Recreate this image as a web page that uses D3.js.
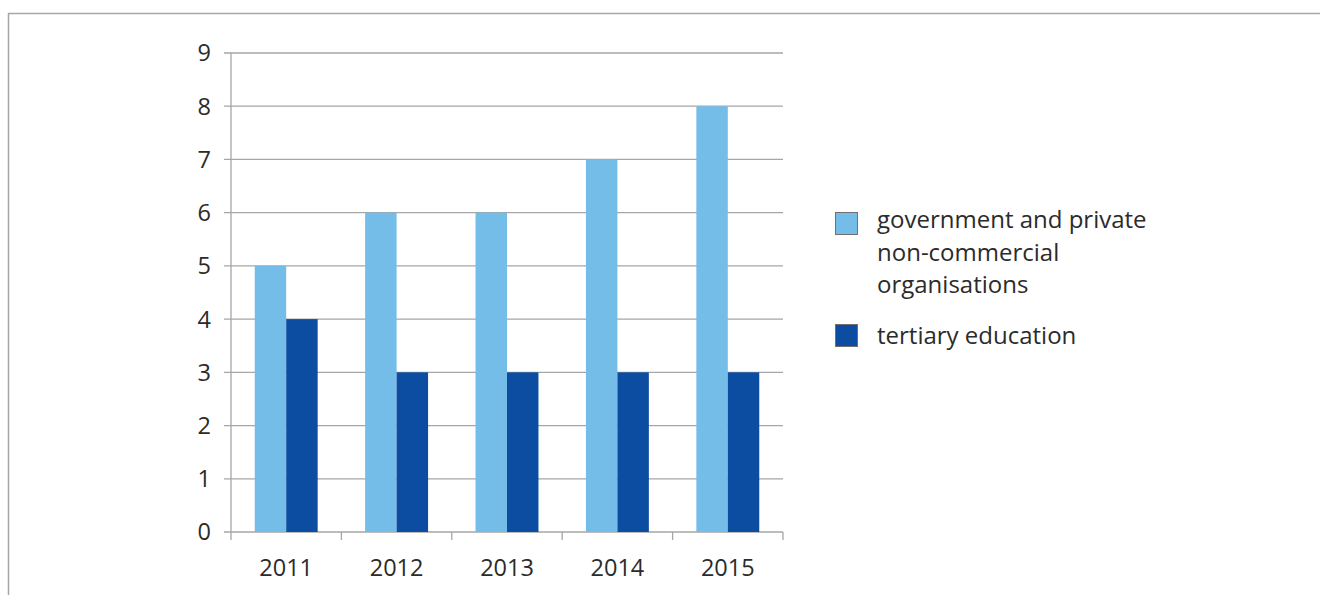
<!DOCTYPE html>
<html><head><meta charset="utf-8">
<script src="https://cdn.jsdelivr.net/npm/d3@7"></script>
<style>
html,body{margin:0;padding:0;background:#fff;}
svg{display:block;font-family:"Open Sans",sans-serif;}
</style></head>
<body>
<svg id="chart" width="1320" height="595"></svg>
<script>
const categories = ["2011","2012","2013","2014","2015"];
const seriesNames = ["government and private non-commercial organisations","tertiary education"];
const legendLines = [["government and private","non-commercial","organisations"],["tertiary education"]];
const govValues = [5,6,6,7,8];
const tertiaryValues = [4,3,3,3,3];
const yTicks = [0,1,2,3,4,5,6,7,8,9];
const colors = ["#74bde8","#0c4da2"];

const svg = d3.select("#chart");
// outer frame
svg.append("path").attr("d","M8.5,595 L8.5,13.5 L1320,13.5")
  .attr("fill","none").attr("stroke","#a6a6a6").attr("stroke-width",1.5);

const x0 = 231, x1 = 783, yTop = 53, yBot = 532;
const x = d3.scaleBand().domain(categories).range([x0,x1]).paddingInner(0).paddingOuter(0);
const y = d3.scaleLinear().domain([0,9]).range([yBot,yTop]);
const inner = d3.scaleBand().domain([0,1]).range([x.bandwidth()*0.215, x.bandwidth()*0.785]);

// gridlines
svg.append("g").selectAll("line").data(yTicks).join("line")
  .attr("x1",x0-7).attr("x2",x1).attr("y1",d=>y(d)).attr("y2",d=>y(d))
  .attr("stroke","#a6a6a6").attr("stroke-width",1.3);

// bars
const data = categories.map((c,i)=>({c,vals:[govValues[i],tertiaryValues[i]]}));
const g = svg.append("g");
data.forEach(d=>{
  d.vals.forEach((v,k)=>{
    g.append("rect").attr("x",x(d.c)+inner(k)).attr("width",inner.bandwidth())
      .attr("y",y(v)).attr("height",y(0)-y(v)).attr("fill",colors[k]);
  });
});

// y axis line
svg.append("line").attr("x1",x0).attr("x2",x0).attr("y1",yTop).attr("y2",yBot)
  .attr("stroke","#a6a6a6").attr("stroke-width",1.3);
// x axis ticks
const tickXs = categories.map(c=>x(c)).concat([x1]);
svg.append("g").selectAll("line").data(tickXs).join("line")
  .attr("x1",d=>d).attr("x2",d=>d).attr("y1",yBot).attr("y2",yBot+8)
  .attr("stroke","#a6a6a6").attr("stroke-width",1.3);

// y labels
svg.append("g").selectAll("text").data(yTicks).join("text")
  .attr("x",x0-20).attr("y",d=>y(d)).attr("dy","0.36em").attr("text-anchor","end")
  .attr("font-size",23.5).attr("fill","#2b2b2b").text(d=>d);
// x labels
svg.append("g").selectAll("text").data(categories).join("text")
  .attr("x",d=>x(d)+x.bandwidth()/2).attr("y",568).attr("dy","0.36em").attr("text-anchor","middle")
  .attr("font-size",23.5).attr("fill","#2b2b2b").text(d=>d);

// legend
const leg = svg.append("g");
const legTops = [212,324];
const legTextOffsets = [7.5,11];
legendLines.forEach((lines,k)=>{
  leg.append("rect").attr("x",835.5).attr("y",legTops[k]+0.5).attr("width",22).attr("height",22)
    .attr("fill",colors[k]).attr("stroke","#707070").attr("stroke-width",1);
  lines.forEach((t,j)=>{
    leg.append("text").attr("x",877).attr("y",legTops[k]+legTextOffsets[k]+j*32.5).attr("dy","0.36em")
      .attr("font-size",24).attr("fill","#2b2b2b").text(t);
  });
});
</script>
</body></html>
